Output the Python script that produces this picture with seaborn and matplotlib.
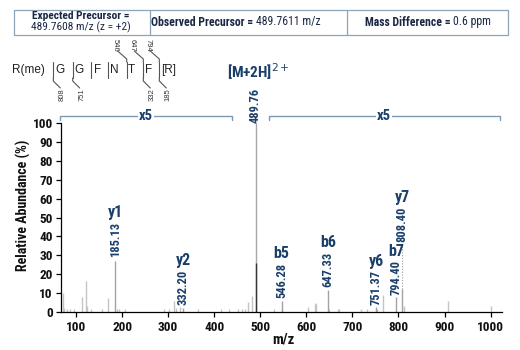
import matplotlib
matplotlib.use('Agg')
import matplotlib.pyplot as plt
import seaborn as sns
import pandas as pd
from matplotlib.transforms import Affine2D
from matplotlib.patches import Rectangle

# peak list: m/z and relative abundance (%), x5 scaled outside the precursor
mz = [71.8, 74.6, 79.8, 86.3, 96.3, 113.7, 121.0, 123.2, 131.8, 155.7, 168.7, 185.13, 188.3, 194.0,
      206.4, 291.7, 301.9, 313.4, 316.4, 325.0, 332.20, 364.0, 414.7, 432.0, 452.4, 461.0, 467.6,
      474.0, 481.3, 489.76, 530.4, 546.28, 547.8, 604.3, 619.5, 621.7, 647.33, 649.0, 669.4, 671.0,
      719.4, 732.4, 751.37, 753.0, 767.0, 794.40, 808.40, 812.0, 906.8, 1000.0]
rel = [10.4, 2.3, 2.0, 1.7, 1.5, 8.2, 16.7, 3.1, 1.7, 1.7, 7.6, 27.0, 1.5, 1.5,
       1.5, 1.7, 1.7, 6.2, 2.5, 3.0, 2.3, 1.5, 2.0, 2.0, 2.0, 1.5, 2.0,
       5.3, 8.6, 100.0, 2.0, 6.2, 2.5, 3.0, 5.0, 4.6, 11.6, 2.0, 1.5, 1.5,
       2.0, 1.5, 3.0, 2.0, 9.3, 8.3, 12.4, 3.5, 6.2, 3.2]
precursor_mz = 489.76
precursor_unscaled = 26.0

ion_names = ['y1', 'y2', 'b5', 'b6', 'y6', 'b7', 'y7']
ion_mz = [185.13, 332.20, 546.28, 647.33, 751.37, 794.40, 808.40]

residues = ['R(me)', 'G', 'G', 'F', 'N', 'T', 'F', '[R]']
b_frag = {4: '546', 5: '647', 6: '794'}
y_frag = {0: '808', 1: '751', 5: '332', 6: '185'}

xticks = list(range(100, 1001, 100))
yticks = list(range(0, 101, 10))

# layout
mass_lab_y = [29.2, 3.9, 7.6, 13.4, 3.9, 9.1, 37.1]
res_x = [28, 60, 79.3, 97.3, 114, 131.7, 149, 168.3]
sep_x = [53.3, 72.7, 91, 108.3, 126.7, 143.3, 159.3]

sns.set_theme(style='ticks')
narrow = ['Roboto Condensed', 'Liberation Sans Narrow', 'DejaVu Sans']
plain = ['Liberation Sans', 'DejaVu Sans']
plt.rcParams['font.family'] = narrow

NAVY = '#1b3f6b'
TXT = '#1a2744'
BR = '#7f9ab0'

fig = plt.figure(figsize=(5.2, 3.5), dpi=100)
ax = fig.add_axes([0.1179, 0.1077, 0.8469, 0.5417])
pix = Affine2D().scale(1 / 520, -1 / 350).translate(0, 1) + fig.transFigure

df = pd.DataFrame({'mz': mz, 'rel': rel})
df['annot'] = df['mz'].isin(ion_mz)
minor = df[~df['annot'] & (df['mz'] != precursor_mz)]
major = df[df['annot']]
ax.vlines(minor['mz'], 0, minor['rel'], color='#c4c4c4', lw=1.0)
ax.vlines(major['mz'], 0, major['rel'], color='#a3a3a3', lw=1.0)
ax.vlines([precursor_mz], 0, [100], color='#a8a8a8', lw=1.0)
ax.vlines([precursor_mz], 0, [precursor_unscaled], color='#333333', lw=1.0)

for name, m, my in zip(ion_names, ion_mz, mass_lab_y):
    t = ax.text(m, my, f'{m:.2f}', rotation=90, ha='center', va='bottom', color=NAVY,
                fontsize=9, fontweight='bold')
    ax.annotate(name, xy=(0.5, 1), xycoords=t, xytext=(0, 1.0), textcoords='offset points',
                ha='center', va='bottom', color=NAVY, fontsize=11.5, fontweight='bold')
top = df.loc[df['mz'] == 808.40, 'rel'].iloc[0]
ax.vlines([808.40], top, mass_lab_y[-1], color='#9a9a9a', lw=0.8, linestyles=(0, (1, 1.5)))

ax.text(precursor_mz, 100, f'{precursor_mz:.2f}', rotation=90, ha='center', va='bottom',
        color=NAVY, fontsize=9, fontweight='bold', clip_on=False)
ax.text(495, 126.7, '[M+2H]$^{2+}$', ha='center', va='center', color=NAVY, fontsize=11,
        fontweight='bold', clip_on=False)

for x0, x1, xt in [(65.9, 439.3, 252), (518.3, 1020.3, 768.5)]:
    ax.plot([x0, x0, x1, x1], [101.6, 103.7, 103.7, 101.6], color=BR, lw=1.0, clip_on=False)
    ax.text(xt, 103.7, 'x5', ha='center', va='center', color=NAVY, fontsize=10.5,
            fontweight='bold', bbox=dict(facecolor='white', edgecolor='none', pad=0.5),
            clip_on=False)

ax.set_xlim(68.1, 1024)
ax.set_ylim(0, 100)
ax.set_xticks(xticks)
ax.set_yticks(yticks)
ax.tick_params(axis='both', direction='out', length=3.6, width=0.9, color='black',
               labelsize=9.5, pad=2.5, labelcolor='#111111')
for lab in ax.get_xticklabels() + ax.get_yticklabels():
    lab.set_fontweight('bold')
sns.despine(ax=ax)
for s in ['left', 'bottom']:
    ax.spines[s].set_color('black')
    ax.spines[s].set_linewidth(0.9)
ax.set_xlabel('')
ax.set_ylabel('')
fig.text(23 / 520, 1 - 205 / 350, 'Relative Abundance (%)', rotation=90, ha='center',
         va='center', fontsize=10, fontweight='bold', color='#111111')
fig.text(283 / 520, 1 - 340 / 350, 'm/z', ha='center', va='center', fontsize=10.5,
         fontweight='bold', color='#111111')

# header table
fig.patches.append(Rectangle((14, 9.5), 494, 25.5, transform=pix, fill=False, edgecolor='#8ea5b8',
                             lw=0.9))
for xd in [150, 346.7]:
    fig.lines.append(plt.Line2D([xd, xd], [9.5, 35], transform=pix, color='#8ea5b8', lw=0.9))
fig.text(80.7, 15.6, 'Expected Precursor =', transform=pix, ha='center', va='center',
         fontsize=8.2, fontweight='bold', color=TXT)
fig.text(80.7, 27.2, '489.7608 m/z (z = +2)', transform=pix, ha='center', va='center',
         fontsize=8.2, color=TXT)
fig.text(256, 22, 'Observed Precursor = ', transform=pix, ha='right', va='center',
         fontsize=8.5, fontweight='bold', color=TXT)
fig.text(256, 22, '489.7611 m/z', transform=pix, ha='left', va='center', fontsize=8.5, color=TXT)
fig.text(453, 22, 'Mass Difference = ', transform=pix, ha='right', va='center',
         fontsize=8.5, fontweight='bold', color=TXT)
fig.text(453, 22, '0.6 ppm', transform=pix, ha='left', va='center', fontsize=8.5, color=TXT)

# peptide fragment map
for r, x in zip(residues, res_x):
    fig.text(x, 70, r, transform=pix, ha='center', va='center', fontsize=8.5,
             family=plain, color='#222222')
LC = '#555555'
for i, sx in enumerate(sep_x):
    fig.lines.append(plt.Line2D([sx, sx], [62, 78], transform=pix, color=LC, lw=0.8))
    if i in b_frag:
        fig.lines.append(plt.Line2D([sx, sx, sx - 9], [62, 59, 51], transform=pix, color=LC, lw=0.8))
        fig.text(sx - 11, 45, b_frag[i], transform=pix, rotation=-90, ha='center', va='center',
                 fontsize=5.5, family=plain, color='#333333')
    if i in y_frag:
        fig.lines.append(plt.Line2D([sx, sx, sx + 7], [78, 81, 88], transform=pix, color=LC, lw=0.8))
        fig.text(sx + 9, 95, y_frag[i], transform=pix, rotation=90, ha='center', va='center',
                 fontsize=5.5, family=plain, color='#333333')

fig.savefig('out.png', dpi=100)
